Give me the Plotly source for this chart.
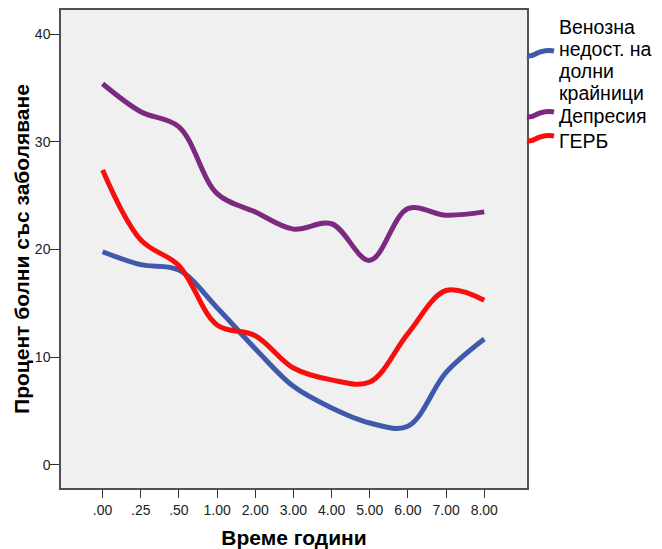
import textwrap
import plotly.graph_objects as go

# Time points (years) shown as categories on the x axis
time_labels = [".00", ".25", ".50", "1.00", "2.00", "3.00", "4.00", "5.00", "6.00", "7.00", "8.00"]

# Percentage of patients with each condition at each time point
venous = [19.8, 18.6, 18.1, 14.6, 10.8, 7.3, 5.3, 3.9, 3.6, 8.6, 11.7]
depression = [35.4, 32.8, 31.4, 25.2, 23.5, 21.9, 22.4, 19.0, 23.8, 23.2, 23.5]
gerd = [27.4, 20.9, 18.5, 13.0, 12.0, 9.0, 7.9, 7.7, 12.2, 16.2, 15.3]

series_names = ["Венозна недост. на долни крайници", "Депресия", "ГЕРБ"]
series_values = [venous, depression, gerd]
series_colors = ["#3F5AAB", "#7B2A80", "#F80E0E"]

y_ticks = [0, 10, 20, 30, 40]

FONT = "Arial, 'Liberation Sans', sans-serif"
W, H = 662, 549
ML, MR, MT, MB = 61, 135, 10, 61
PW, PH = W - ML - MR, H - MT - MB


def px_to_paper(px, py):
    return (px - ML) / PW, (H - MB - py) / PH


fig = go.Figure()
for name, vals, color in zip(series_names, series_values, series_colors):
    fig.add_trace(go.Scatter(
        x=time_labels, y=vals, name=name, mode="lines",
        line=dict(color=color, width=5, shape="spline", smoothing=1.0),
        showlegend=False,
    ))

# Legend: wavy key lines and wrapped labels placed to the right of the plot
legend_key_y = [53, 114, 138]
legend_text_y = [[27, 49, 71, 93], [116.5], [141]]
shapes = []
annotations = []
for name, color, ky, ty_list in zip(series_names, series_colors, legend_key_y, legend_text_y):
    pts = [(527, ky + 3), (533, ky + 4), (536, ky), (540, ky - 1), (549, ky - 3), (554, ky - 2)]
    pp = [px_to_paper(x, y) for x, y in pts]
    path = (f"M {pp[0][0]},{pp[0][1]} C {pp[1][0]},{pp[1][1]} {pp[2][0]},{pp[2][1]} {pp[3][0]},{pp[3][1]} "
            f"S {pp[4][0]},{pp[4][1]} {pp[5][0]},{pp[5][1]}")
    shapes.append(dict(type="path", path=path, xref="paper", yref="paper",
                       line=dict(color=color, width=5), layer="above"))
    for line_text, ty in zip(textwrap.wrap(name, width=10), ty_list):
        ax, ay = px_to_paper(557, ty)
        annotations.append(dict(text=line_text, x=ax, y=ay, xref="paper", yref="paper",
                                xanchor="left", yanchor="middle", showarrow=False,
                                font=dict(family=FONT, size=19.5, color="#000000")))

fig.update_layout(
    width=W, height=H,
    autosize=False,
    margin=dict(l=ML, r=MR, t=MT, b=MB, pad=0, autoexpand=False),
    paper_bgcolor="white",
    plot_bgcolor="#F0F0F0",
    showlegend=False,
    shapes=shapes,
    annotations=annotations,
    xaxis=dict(
        type="category",
        range=[-1.09, 11.12],
        automargin=False,
        showgrid=False, zeroline=False,
        showline=True, linecolor="#505050", linewidth=1.5, mirror=True,
        ticks="outside", ticklen=8, tickwidth=1, tickcolor="#333333",
        tickfont=dict(family=FONT, size=14, color="#222222"),
        title=dict(text="<b>Време години</b>", standoff=14,
                   font=dict(family=FONT, size=21, color="#000000")),
    ),
    yaxis=dict(
        range=[-2.14, 42.25],
        tickvals=y_ticks,
        automargin=False,
        showgrid=False, zeroline=False,
        showline=True, linecolor="#505050", linewidth=1.5, mirror=True,
        ticks="outside", ticklen=9, tickwidth=1, tickcolor="#333333",
        ticklabelstandoff=-3,
        tickfont=dict(family=FONT, size=14, color="#222222"),
        title=dict(text="<b>Процент болни със заболяване</b>", standoff=0,
                   font=dict(family=FONT, size=21, color="#000000")),
    ),
)

fig.write_html("out.html")
